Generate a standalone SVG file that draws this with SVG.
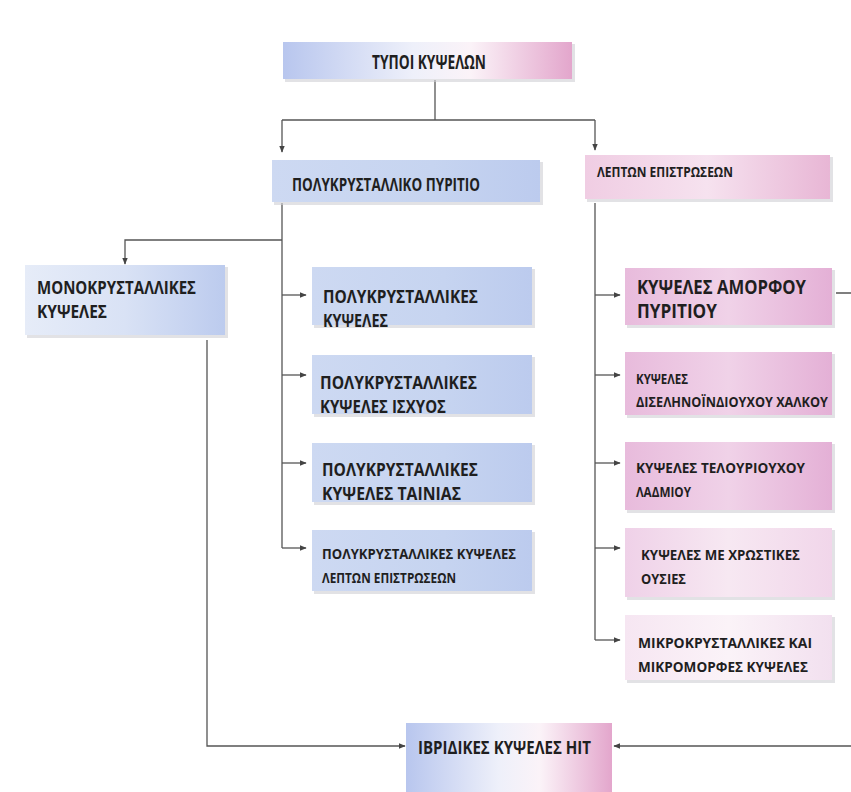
<svg xmlns="http://www.w3.org/2000/svg" width="851" height="792" viewBox="0 0 851 792">
<defs>
<linearGradient id="gBP" x1="0" y1="0" x2="1" y2="0">
<stop offset="0" stop-color="#b8c6ee"/><stop offset="0.45" stop-color="#eef0fa"/><stop offset="0.65" stop-color="#fbf3f8"/><stop offset="1" stop-color="#e3a6cc"/>
</linearGradient>
<linearGradient id="gBlue" x1="0" y1="0" x2="1" y2="0">
<stop offset="0" stop-color="#cdd9f2"/><stop offset="0.6" stop-color="#c6d4f0"/><stop offset="1" stop-color="#bccbee"/>
</linearGradient>
<linearGradient id="gMono" x1="0" y1="0" x2="1" y2="0">
<stop offset="0" stop-color="#e6ecf8"/><stop offset="0.5" stop-color="#d9e2f5"/><stop offset="1" stop-color="#bccbee"/>
</linearGradient>
<linearGradient id="gPink" x1="0" y1="0" x2="1" y2="0">
<stop offset="0" stop-color="#f0cde3"/><stop offset="0.5" stop-color="#f6e2ef"/><stop offset="1" stop-color="#e8b6d5"/>
</linearGradient>
<linearGradient id="gPink2" x1="0" y1="0" x2="1" y2="0">
<stop offset="0" stop-color="#e8bbdc"/><stop offset="0.5" stop-color="#f0d2e8"/><stop offset="1" stop-color="#e4b0d6"/>
</linearGradient>
<linearGradient id="gPink3" x1="0" y1="0" x2="1" y2="0">
<stop offset="0" stop-color="#efd1e8"/><stop offset="0.5" stop-color="#f7e8f2"/><stop offset="1" stop-color="#f1d6ea"/>
</linearGradient>
<linearGradient id="gPink4" x1="0" y1="0" x2="1" y2="0">
<stop offset="0" stop-color="#f6e6f2"/><stop offset="0.5" stop-color="#fbf3f8"/><stop offset="1" stop-color="#f2e0ef"/>
</linearGradient>
<marker id="ah" viewBox="0 0 10 10" refX="9" refY="5" markerWidth="7" markerHeight="7" orient="auto" markerUnits="userSpaceOnUse">
<path d="M0,1 L10,5 L0,9 z" fill="#444"/>
</marker>
</defs>
<style>
.t{font-family:"Open Sans","DejaVu Sans",sans-serif;font-weight:700;fill:#1f1f1f;}
.c{fill:none;stroke:#555;stroke-width:1.3;}
.sh{fill:#cfcfd4;opacity:0.6;}
</style>
<rect width="851" height="792" fill="#ffffff"/>

<g id="connectors">
<path class="c" d="M435,80 V120"/>
<path class="c" d="M282,120 H595"/>
<path class="c" d="M282,120 V152" marker-end="url(#ah)"/>
<path class="c" d="M595,120 V150" marker-end="url(#ah)"/>
<path class="c" d="M282,203 V548"/>
<path class="c" d="M282,240 H125 V264" marker-end="url(#ah)"/>
<path class="c" d="M282,295 H306" marker-end="url(#ah)"/>
<path class="c" d="M282,375 H306" marker-end="url(#ah)"/>
<path class="c" d="M282,463 H306" marker-end="url(#ah)"/>
<path class="c" d="M282,548 H306" marker-end="url(#ah)"/>
<path class="c" d="M595,203 V640"/>
<path class="c" d="M595,295 H620" marker-end="url(#ah)"/>
<path class="c" d="M595,375 H620" marker-end="url(#ah)"/>
<path class="c" d="M595,463 H620" marker-end="url(#ah)"/>
<path class="c" d="M595,548 H620" marker-end="url(#ah)"/>
<path class="c" d="M595,640 H620" marker-end="url(#ah)"/>
<path class="c" d="M207,340 V746 H405" marker-end="url(#ah)"/>
<path class="c" d="M836,293 H855 V746 H614" marker-end="url(#ah)"/>
</g>

<g id="n-title">
<rect class="sh" x="285" y="44" width="290" height="38"/>
<rect x="283" y="42" width="289" height="37" fill="url(#gBP)"/>
<text class="t" transform="translate(372,69) scale(0.8,1)" font-size="19" textLength="142.5" lengthAdjust="spacingAndGlyphs">ΤΥΠΟΙ ΚΥΨΕΛΩΝ</text>
</g>

<g id="n-poly">
<rect class="sh" x="274" y="162" width="269" height="43"/>
<rect x="272" y="160" width="268" height="42" fill="url(#gBlue)"/>
<text class="t" transform="translate(292,191) scale(0.8,1)" font-size="18" textLength="235" lengthAdjust="spacingAndGlyphs">ΠΟΛΥΚΡΥΣΤΑΛΛΙΚΟ ΠΥΡΙΤΙΟ</text>
</g>

<g id="n-lepton">
<rect class="sh" x="587" y="157" width="246" height="45"/>
<rect x="585" y="155" width="245" height="44" fill="url(#gPink)"/>
<text class="t" transform="translate(597,177) scale(0.8,1)" font-size="14" textLength="170" lengthAdjust="spacingAndGlyphs">ΛΕΠΤΩΝ ΕΠΙΣΤΡΩΣΕΩΝ</text>
</g>

<g id="n-mono">
<rect class="sh" x="27" y="267" width="201" height="71"/>
<rect x="25" y="265" width="200" height="70" fill="url(#gMono)"/>
<text class="t" transform="translate(37,294) scale(0.8,1)" font-size="18" textLength="198.75" lengthAdjust="spacingAndGlyphs">ΜΟΝΟΚΡΥΣΤΑΛΛΙΚΕΣ</text>
<text class="t" transform="translate(37,318) scale(0.8,1)" font-size="18" textLength="87.5" lengthAdjust="spacingAndGlyphs">ΚΥΨΕΛΕΣ</text>
</g>

<g id="n-poly1">
<rect class="sh" x="314" y="269" width="221" height="59"/>
<rect x="312" y="267" width="220" height="58" fill="url(#gBlue)"/>
<text class="t" transform="translate(323,303) scale(0.8,1)" font-size="18" textLength="193.75" lengthAdjust="spacingAndGlyphs">ΠΟΛΥΚΡΥΣΤΑΛΛΙΚΕΣ</text>
<text class="t" transform="translate(323,327) scale(0.8,1)" font-size="18" textLength="81.25" lengthAdjust="spacingAndGlyphs">ΚΥΨΕΛΕΣ</text>
</g>

<g id="n-poly2">
<rect class="sh" x="314" y="357" width="221" height="60"/>
<rect x="312" y="355" width="220" height="59" fill="url(#gBlue)"/>
<text class="t" transform="translate(320,389) scale(0.8,1)" font-size="18" textLength="196.25" lengthAdjust="spacingAndGlyphs">ΠΟΛΥΚΡΥΣΤΑΛΛΙΚΕΣ</text>
<text class="t" transform="translate(320,413) scale(0.8,1)" font-size="18" textLength="157.5" lengthAdjust="spacingAndGlyphs">ΚΥΨΕΛΕΣ ΙΣΧΥΟΣ</text>
</g>

<g id="n-poly3">
<rect class="sh" x="314" y="445" width="221" height="60"/>
<rect x="312" y="443" width="220" height="59" fill="url(#gBlue)"/>
<text class="t" transform="translate(322,476) scale(0.8,1)" font-size="18" textLength="195" lengthAdjust="spacingAndGlyphs">ΠΟΛΥΚΡΥΣΤΑΛΛΙΚΕΣ</text>
<text class="t" transform="translate(322,500) scale(0.8,1)" font-size="18" textLength="173.75" lengthAdjust="spacingAndGlyphs">ΚΥΨΕΛΕΣ ΤΑΙΝΙΑΣ</text>
</g>

<g id="n-poly4">
<rect class="sh" x="314" y="532" width="221" height="62"/>
<rect x="312" y="530" width="220" height="61" fill="url(#gBlue)"/>
<text class="t" transform="translate(322,559) scale(0.8,1)" font-size="15" textLength="242.5" lengthAdjust="spacingAndGlyphs">ΠΟΛΥΚΡΥΣΤΑΛΛΙΚΕΣ ΚΥΨΕΛΕΣ</text>
<text class="t" transform="translate(322,583) scale(0.8,1)" font-size="15" textLength="167.5" lengthAdjust="spacingAndGlyphs">ΛΕΠΤΩΝ ΕΠΙΣΤΡΩΣΕΩΝ</text>
</g>

<g id="n-amorf">
<rect class="sh" x="627" y="270" width="208" height="58"/>
<rect x="625" y="268" width="207" height="57" fill="url(#gPink2)"/>
<text class="t" transform="translate(637,294) scale(0.8,1)" font-size="19" textLength="211.25" lengthAdjust="spacingAndGlyphs">ΚΥΨΕΛΕΣ ΑΜΟΡΦΟΥ</text>
<text class="t" transform="translate(637,318) scale(0.8,1)" font-size="19" textLength="100" lengthAdjust="spacingAndGlyphs">ΠΥΡΙΤΙΟΥ</text>
</g>

<g id="n-disel">
<rect class="sh" x="627" y="354" width="208" height="64"/>
<rect x="625" y="352" width="207" height="63" fill="url(#gPink2)"/>
<text class="t" transform="translate(636,384) scale(0.8,1)" font-size="14" textLength="65" lengthAdjust="spacingAndGlyphs">ΚΥΨΕΛΕΣ</text>
<text class="t" transform="translate(636,407) scale(0.8,1)" font-size="15" textLength="240" lengthAdjust="spacingAndGlyphs">ΔΙΣΕΛΗΝΟΪΝΔΙΟΥΧΟΥ ΧΑΛΚΟΥ</text>
</g>

<g id="n-telour">
<rect class="sh" x="627" y="444" width="208" height="69"/>
<rect x="625" y="442" width="207" height="68" fill="url(#gPink2)"/>
<text class="t" transform="translate(636,473) scale(0.8,1)" font-size="15" textLength="211.25" lengthAdjust="spacingAndGlyphs">ΚΥΨΕΛΕΣ ΤΕΛΟΥΡΙΟΥΧΟΥ</text>
<text class="t" transform="translate(636,497) scale(0.8,1)" font-size="15" textLength="68.75" lengthAdjust="spacingAndGlyphs">ΛΑΔΜΙΟΥ</text>
</g>

<g id="n-xrost">
<rect class="sh" x="627" y="530" width="208" height="70"/>
<rect x="625" y="528" width="207" height="69" fill="url(#gPink3)"/>
<text class="t" transform="translate(641,560) scale(0.8,1)" font-size="15" textLength="198.75" lengthAdjust="spacingAndGlyphs">ΚΥΨΕΛΕΣ ΜΕ ΧΡΩΣΤΙΚΕΣ</text>
<text class="t" transform="translate(641,584) scale(0.8,1)" font-size="15" textLength="56.25" lengthAdjust="spacingAndGlyphs">ΟΥΣΙΕΣ</text>
</g>

<g id="n-mikro">
<rect class="sh" x="627" y="617" width="208" height="66"/>
<rect x="625" y="615" width="207" height="65" fill="url(#gPink4)"/>
<text class="t" transform="translate(638,648) scale(0.8,1)" font-size="15" textLength="217.5" lengthAdjust="spacingAndGlyphs">ΜΙΚΡΟΚΡΥΣΤΑΛΛΙΚΕΣ ΚΑΙ</text>
<text class="t" transform="translate(638,672) scale(0.8,1)" font-size="15" textLength="212.5" lengthAdjust="spacingAndGlyphs">ΜΙΚΡΟΜΟΡΦΕΣ ΚΥΨΕΛΕΣ</text>
</g>

<g id="n-hit">
<rect x="406" y="723" width="206" height="69" fill="url(#gBP)"/>
<text class="t" transform="translate(418,754) scale(0.8,1)" font-size="18" textLength="216.25" lengthAdjust="spacingAndGlyphs">ΙΒΡΙΔΙΚΕΣ ΚΥΨΕΛΕΣ HIT</text>
</g>
</svg>
